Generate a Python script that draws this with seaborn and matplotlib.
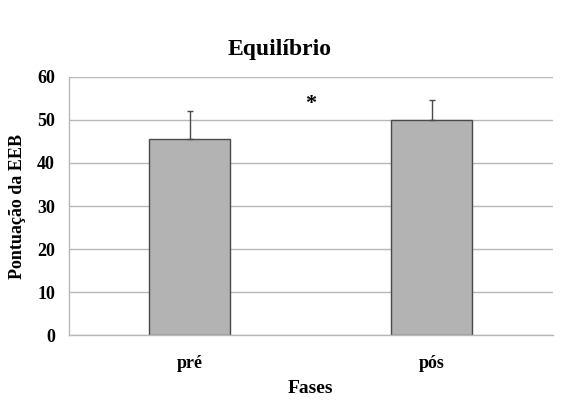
import numpy as np
import pandas as pd
import matplotlib
matplotlib.use('Agg')
import matplotlib.pyplot as plt
import seaborn as sns

# Dados
fases = ['pré', 'pós']
media = [45.6, 50.0]
desvio = [6.5, 4.5]
y_ticks = [0, 10, 20, 30, 40, 50, 60]
titulo = 'Equilíbrio'
asterisco_pos = (0.5, 53.6)

df = pd.DataFrame({'Fases': fases, 'Pontuacao': media})

sns.set_style('white')
plt.rcParams['font.family'] = ['Liberation Serif', 'DejaVu Serif']
plt.rcParams['font.weight'] = 'bold'
plt.rcParams['text.color'] = 'black'
plt.rcParams['axes.labelcolor'] = 'black'
plt.rcParams['xtick.labelcolor'] = 'black'
plt.rcParams['ytick.labelcolor'] = 'black'

fig = plt.figure(figsize=(5.77, 4.07), dpi=100)
ax = fig.add_axes([0.1196, 0.176, 0.958 - 0.1196, 0.8115 - 0.176])

ax.set_axisbelow(True)
ax.yaxis.grid(True, color='#b8b8b8', linewidth=1)

sns.barplot(data=df, x='Fases', y='Pontuacao', ax=ax, color='#b3b3b3',
            saturation=1, width=0.335, edgecolor='#4a4a4a', linewidth=1,
            errorbar=None)

# barras de erro só para cima
x = np.arange(len(fases))
ax.errorbar(x, media, yerr=[np.zeros(len(desvio)), desvio], fmt='none',
            ecolor='#4a4a4a', elinewidth=1, capsize=2.5, capthick=1)

ax.text(asterisco_pos[0], asterisco_pos[1], '*', ha='center', va='center',
        fontsize=16, fontweight='bold', color='black')

ax.set_xlim(-0.5, 1.5)
ax.set_ylim(0, 60)
ax.set_yticks(y_ticks)
ax.set_yticklabels([str(v) for v in y_ticks], fontsize=13, fontweight='bold')
ax.set_xticks(x)
ax.set_xticklabels(fases, fontsize=13, fontweight='bold')
ax.tick_params(axis='x', length=0, pad=14)
ax.tick_params(axis='y', length=4, color='#b8b8b8', width=1, pad=6)

# marcas entre categorias
ax.set_xticks([-0.5, 0.5, 1.5], minor=True)
ax.tick_params(axis='x', which='minor', length=5, color='#b8b8b8', width=1)

for s in ['top', 'right']:
    ax.spines[s].set_visible(False)
for s in ['left', 'bottom']:
    ax.spines[s].set_color('#b8b8b8')
    ax.spines[s].set_linewidth(1)

ax.set_xlabel('Fases', fontsize=14, fontweight='bold', labelpad=6, color='black')
ax.set_ylabel('Pontuação da EEB', fontsize=13, fontweight='bold', labelpad=8,
              color='black')

fig.text(0.485, 0.865, titulo, ha='center', va='baseline', fontsize=17,
         fontweight='bold', color='black')

fig.savefig('out.png', dpi=100)
